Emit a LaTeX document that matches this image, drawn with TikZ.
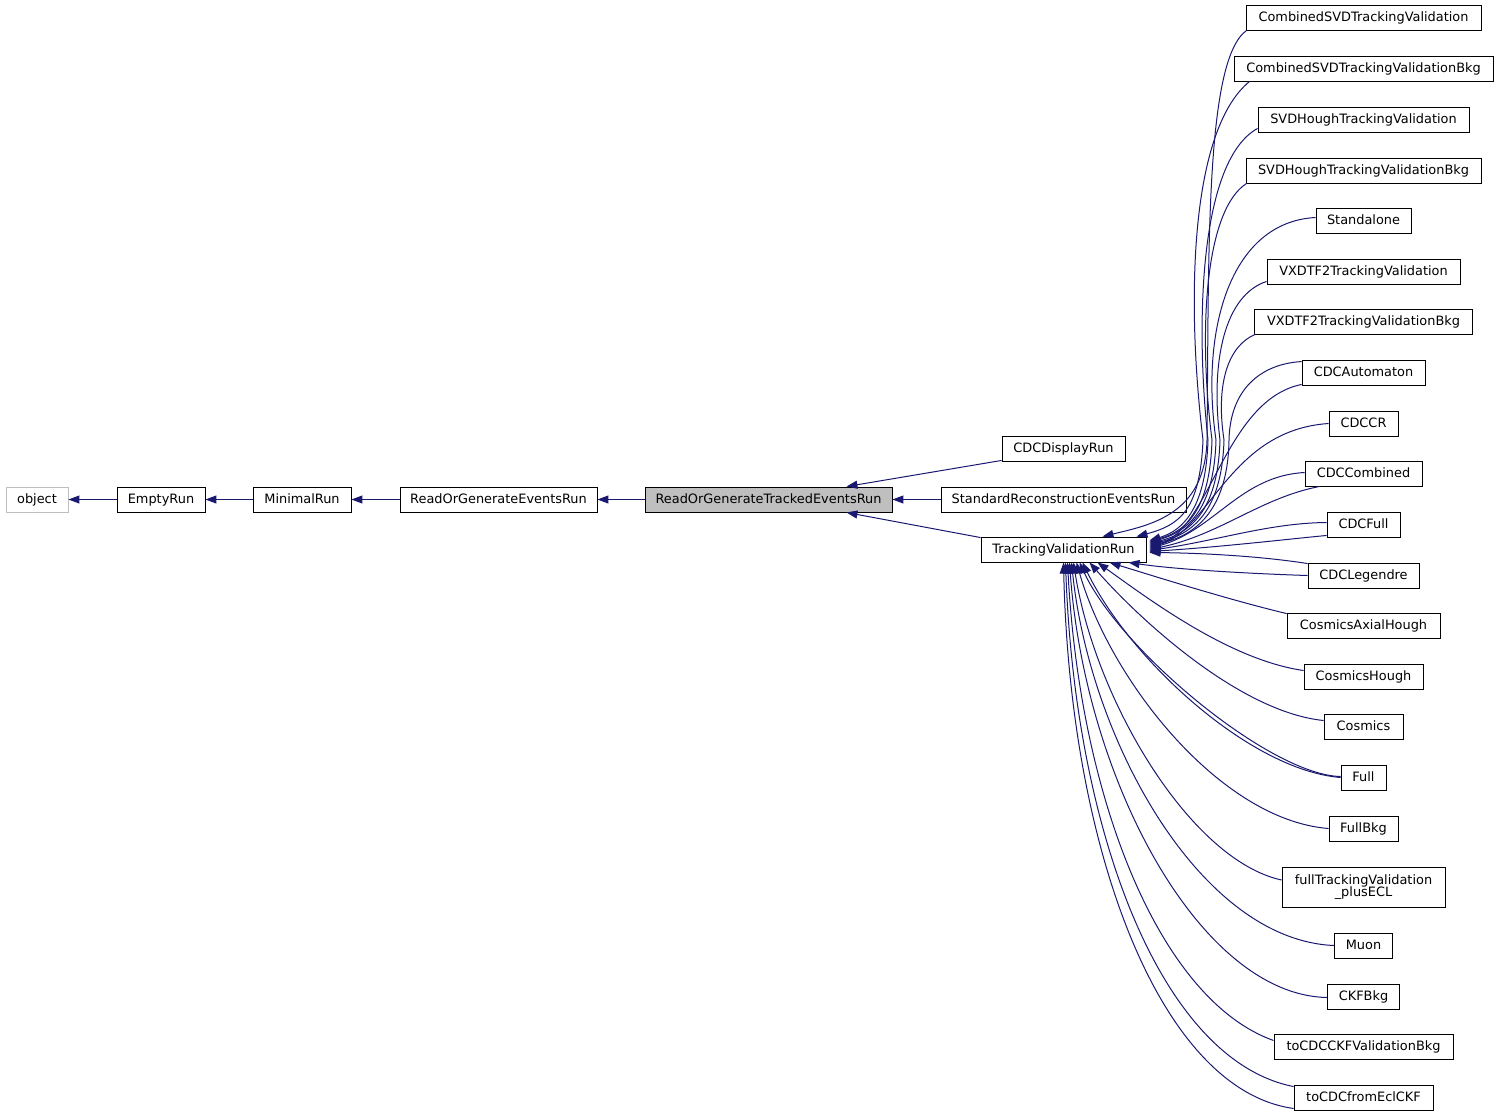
\documentclass[tikz,border=0pt]{standalone}
\usepackage{fontspec}
\setmainfont{DejaVu Sans}
\usetikzlibrary{arrows.meta,calc}
\definecolor{edgeblue}{HTML}{191970}
\definecolor{boxgray}{HTML}{BFBFBF}
\begin{document}
\begin{tikzpicture}[x=1pt,y=-1pt,
  cls/.style={draw=black,line width=0.9pt,fill=white,inner sep=0pt,minimum height=25pt,text height=10.5pt,text depth=2pt,font=\fontsize{12.9}{14}\selectfont},
  ext/.style={cls,draw=boxgray},
  cur/.style={cls,fill=boxgray},
  edge/.style={draw=edgeblue,line width=1pt,{Triangle[length=11pt,width=8pt,fill=edgeblue]}-}
]
\useasboundingbox (0,0) rectangle (1499,1117);
% left chain
\node[ext,minimum width=62pt] (obj) at (37,499.5) {object};
\node[cls,minimum width=88pt] (empty) at (161,499.5) {EmptyRun};
\node[cls,minimum width=98pt] (minimal) at (302,499.5) {MinimalRun};
\node[cls,minimum width=197pt] (rger) at (498.5,499.5) {ReadOrGenerateEventsRun};
\node[cur,minimum width=247pt] (rgter) at (768.5,499.5) {ReadOrGenerateTrackedEventsRun};
\node[cls,minimum width=123pt] (cdcdisp) at (1063.5,448.5) {CDCDisplayRun};
\node[cls,minimum width=245pt] (srer) at (1063.5,499.5) {StandardReconstructionEventsRun};
\node[cls,minimum width=165pt] (tvr) at (1063.5,549.5) {TrackingValidationRun};
% right column
\node[cls,minimum width=235pt] (c1) at (1363.5,17.5) {CombinedSVDTrackingValidation};
\node[cls,minimum width=259pt] (c2) at (1363.5,68.5) {CombinedSVDTrackingValidationBkg};
\node[cls,minimum width=211pt] (c3) at (1363.5,119.5) {SVDHoughTrackingValidation};
\node[cls,minimum width=235pt] (c4) at (1363.5,170.5) {SVDHoughTrackingValidationBkg};
\node[cls,minimum width=95pt] (c5) at (1363.5,220.5) {Standalone};
\node[cls,minimum width=193pt] (c6) at (1363.5,271.5) {VXDTF2TrackingValidation};
\node[cls,minimum width=218pt] (c7) at (1363.5,321.5) {VXDTF2TrackingValidationBkg};
\node[cls,minimum width=123pt] (c8) at (1363.5,372.5) {CDCAutomaton};
\node[cls,minimum width=69pt] (c9) at (1363.5,423.5) {CDCCR};
\node[cls,minimum width=117pt] (c10) at (1363.5,473.5) {CDCCombined};
\node[cls,minimum width=73pt] (c11) at (1363.5,524.5) {CDCFull};
\node[cls,minimum width=111pt] (c12) at (1363.5,575.5) {CDCLegendre};
\node[cls,minimum width=153pt] (c13) at (1363.5,625.5) {CosmicsAxialHough};
\node[cls,minimum width=119pt] (c14) at (1363.5,676.5) {CosmicsHough};
\node[cls,minimum width=79pt] (c15) at (1363.5,726.5) {Cosmics};
\node[cls,minimum width=45pt] (c16) at (1363.5,777.5) {Full};
\node[cls,minimum width=69pt] (c17) at (1363.5,828.5) {FullBkg};
\node[cls,minimum width=163pt,minimum height=40pt,text height=,text depth=,align=center] (c18) at (1363.5,887) {fullTrackingValidation\\[-1.5pt]\_plusECL};
\node[cls,minimum width=58pt] (c19) at (1363.5,945.5) {Muon};
\node[cls,minimum width=72pt] (c20) at (1363.5,996.5) {CKFBkg};
\node[cls,minimum width=179pt] (c21) at (1363.5,1046.5) {toCDCCKFValidationBkg};
\node[cls,minimum width=139pt] (c22) at (1363.5,1097.5) {toCDCfromEclCKF};
% main chain edges
\draw[edge] (obj.east) -- (empty.west);
\draw[edge] (empty.east) -- (minimal.west);
\draw[edge] (minimal.east) -- (rger.west);
\draw[edge] (rger.east) -- (rgter.west);
\draw[edge] (rgter.east) -- (srer.west);
\draw[edge] ($(rgter.north east)+(-46,0)$) -- ($(cdcdisp.south west)+(0,-1)$);
\draw[edge] ($(rgter.south east)+(-46,0)$) -- ($(tvr.north west)+(0,1)$);
% upper group into TrackingValidationRun
\draw[edge] ($(tvr.north east)+(-44,0)$) .. controls (1150,525) and (1205,515) .. (1207,440) .. controls (1209,250) and (1205,60) .. ($(c1.south west)+(1,0)$);
\draw[edge] ($(tvr.north east)+(-10,0)$) .. controls (1180,525) and (1200,510) .. (1203,440) .. controls (1186,300) and (1190,130) .. ($(c2.south west)+(16,0)$);
\draw[edge] ($(tvr.east)+(3,-9)$) .. controls (1185,530) and (1206,505) .. (1208,440) .. controls (1195,320) and (1200,160) .. ($(c3.south west)+(0,-4)$);
\draw[edge] ($(tvr.east)+(3,-8)$) .. controls (1190,530) and (1210,505) .. (1212,440) .. controls (1198,330) and (1205,210) .. ($(c4.south west)+(1,0)$);
\draw[edge] ($(tvr.east)+(3,-7)$) .. controls (1192,530) and (1214,505) .. (1216,440) .. controls (1200,330) and (1230,222) .. ($(c5.west)+(0,-3)$);
\draw[edge] ($(tvr.east)+(3,-6)$) .. controls (1195,532) and (1218,505) .. (1220,440) .. controls (1210,360) and (1225,295) .. ($(c6.south west)+(0,-3)$);
\draw[edge] ($(tvr.east)+(3,-5)$) .. controls (1198,533) and (1222,505) .. (1224,440) .. controls (1215,380) and (1230,345) .. ($(c7.south west)+(1,0)$);
\draw[edge] ($(tvr.east)+(3,-4)$) .. controls (1200,535) and (1228,505) .. (1229,440) .. controls (1230,390) and (1260,364) .. ($(c8.north west)+(0,2)$);
\draw[edge] ($(tvr.east)+(3,-3)$) .. controls (1210,530) and (1225,400) .. ($(c8.south west)+(0,-1)$);
\draw[edge] ($(tvr.east)+(3,-2)$) .. controls (1210,530) and (1230,430) .. (c9.west);
\draw[edge] ($(tvr.east)+(3,-1)$) .. controls (1215,530) and (1240,476) .. ($(c10.west)+(0,-1)$);
\draw[edge] ($(tvr.east)+(3,0)$) .. controls (1220,535) and (1260,498) .. ($(c10.south west)+(15,0)$);
\draw[edge] ($(tvr.east)+(3,1)$) .. controls (1220,540) and (1270,523) .. ($(c11.west)+(0,-2)$);
\draw[edge] ($(tvr.east)+(3,2)$) .. controls (1220,547) and (1280,540) .. ($(c11.south west)+(0,-2)$);
\draw[edge] ($(tvr.east)+(3,3)$) .. controls (1200,553) and (1260,556) .. ($(c12.north west)+(0,1)$);
% lower group
\draw[edge] ($(tvr.south east)+(-18,0)$) .. controls (1180,570) and (1260,574) .. ($(c12.west)+(0,0)$);
\draw[edge] ($(tvr.south)+(46,0)$) .. controls (1160,578) and (1230,600) .. ($(c13.north west)+(0,1)$);
\draw[edge] ($(tvr.south)+(34,0)$) .. controls (1150,600) and (1230,660) .. ($(c14.west)+(0,-6)$);
\draw[edge] ($(tvr.south)+(26,0)$) .. controls (1140,620) and (1240,712) .. ($(c15.west)+(0,-6)$);
\draw[edge] ($(tvr.south)+(19,0)$) .. controls (1130,660) and (1250,770) .. ($(c16.west)+(0,0)$);
\draw[edge] ($(tvr.south)+(16,0)$) .. controls (1120,650) and (1270,775) .. ($(c16.west)+(0,-1)$);
\draw[edge] ($(tvr.south)+(13,0)$) .. controls (1110,680) and (1220,820) .. (c17.west);
\draw[edge] ($(tvr.south)+(10,0)$) .. controls (1095,700) and (1190,860) .. ($(c18.west)+(0,-7)$);
\draw[edge] ($(tvr.south)+(8,0)$) .. controls (1090,740) and (1200,940) .. (c19.west);
\draw[edge] ($(tvr.south)+(6,0)$) .. controls (1085,780) and (1200,995) .. ($(c20.west)+(0,1)$);
\draw[edge] ($(tvr.south)+(4,0)$) .. controls (1080,800) and (1160,1000) .. ($(c21.west)+(0,-6)$);
\draw[edge] ($(tvr.south)+(2,0)$) .. controls (1075,830) and (1160,1060) .. ($(c22.north west)+(0,2)$);
\draw[edge] ($(tvr.south)+(0,0)$) .. controls (1070,850) and (1160,1090) .. ($(c22.south west)+(0,-2)$);
\end{tikzpicture}
\end{document}
